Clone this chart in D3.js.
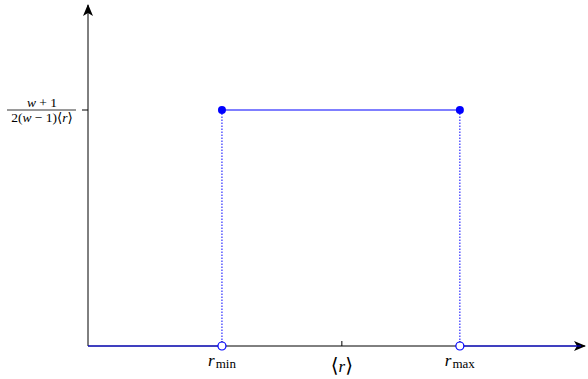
<!DOCTYPE html>
<html>
<head>
<meta charset="utf-8">
<script src="https://cdn.jsdelivr.net/npm/d3@7"></script>
<style>
  html, body { margin: 0; padding: 0; background: #fff; }
  svg { display: block; }
  text { font-family: "Liberation Serif", "DejaVu Serif", serif; }
</style>
</head>
<body>
<svg id="chart" width="588" height="379"></svg>
<script>
// Uniform density of r on [r_min, r_max] (arbitrary units)
const xDomain = [0, 3.71];
const yDomain = [0, 1.445];
const rMin = 1.0;
const rMean = 1.895;
const rMax = 2.776;
const height = 1.0; // (w+1) / (2(w-1)<r>)

// piecewise density: segments of the step function
const leftSeg = [[0, 0], [rMin, 0]];
const topSeg = [[rMin, height], [rMax, height]];
const rightSeg = [[rMax, 0], [3.68, 0]];
const jumps = [rMin, rMax];

const xTicks = [
  { v: rMin, base: "r", sub: "min" },
  { v: rMean, mean: true },
  { v: rMax, base: "r", sub: "max" }
];

const svg = d3.select("#chart");
const x = d3.scaleLinear().domain(xDomain).range([88, 585]);
const y = d3.scaleLinear().domain(yDomain).range([346, 5]);

const defs = svg.append("defs");
defs.append("marker")
  .attr("id", "arrow")
  .attr("viewBox", "0 0 12 10")
  .attr("refX", 11).attr("refY", 5)
  .attr("markerWidth", 12).attr("markerHeight", 10)
  .attr("markerUnits", "userSpaceOnUse")
  .attr("orient", "auto")
  .append("path")
  .attr("d", "M0,0 L12,5 L0,10 L3,5 Z")
  .attr("fill", "#000");

// axes
svg.append("line")
  .attr("x1", x(0)).attr("y1", y(0)).attr("x2", x(xDomain[1])).attr("y2", y(0))
  .attr("stroke", "#000").attr("stroke-width", 1)
  .attr("marker-end", "url(#arrow)");
svg.append("line")
  .attr("x1", x(0)).attr("y1", y(0)).attr("x2", x(0)).attr("y2", y(yDomain[1]))
  .attr("stroke", "#000").attr("stroke-width", 1)
  .attr("marker-end", "url(#arrow)");

// x tick marks (inward)
svg.selectAll(".xtick").data(xTicks).enter().append("line")
  .attr("x1", d => x(d.v)).attr("x2", d => x(d.v))
  .attr("y1", y(0)).attr("y2", y(0) - 5)
  .attr("stroke", "#000").attr("stroke-width", 1);

// y tick mark (outward)
svg.append("line")
  .attr("x1", x(0) - 6).attr("x2", x(0))
  .attr("y1", y(height)).attr("y2", y(height))
  .attr("stroke", "#000").attr("stroke-width", 1);

// density lines
const line = d3.line().x(d => x(d[0])).y(d => y(d[1]));
[leftSeg, topSeg, rightSeg].forEach(seg => {
  svg.append("path").attr("d", line(seg))
    .attr("fill", "none").attr("stroke", "#0000ff").attr("stroke-width", 1.2);
});

// dotted jumps
svg.selectAll(".jump").data(jumps).enter().append("line")
  .attr("x1", d => x(d)).attr("x2", d => x(d))
  .attr("y1", y(0)).attr("y2", y(height))
  .attr("stroke", "#0000ff").attr("stroke-width", 1)
  .attr("stroke-dasharray", "1.5,1.5");

// open circles at the bottom, filled dots at the top
svg.selectAll(".open").data(jumps).enter().append("circle")
  .attr("cx", d => x(d)).attr("cy", y(0)).attr("r", 4)
  .attr("fill", "#fff").attr("stroke", "#0000ff").attr("stroke-width", 1.2);
svg.selectAll(".filled").data(jumps).enter().append("circle")
  .attr("cx", d => x(d)).attr("cy", y(height)).attr("r", 4)
  .attr("fill", "#0000ff");

// x tick labels
xTicks.forEach(t => {
  if (t.mean) {
    const txt = svg.append("text")
      .attr("x", x(t.v)).attr("y", 372)
      .attr("text-anchor", "middle").attr("font-size", 17);
    txt.append("tspan").attr("font-size", 20).attr("font-family", "DejaVu Serif").text("⟨");
    txt.append("tspan").attr("font-style", "italic").text("r");
    txt.append("tspan").attr("font-size", 20).attr("font-family", "DejaVu Serif").text("⟩");
  } else {
    const txt = svg.append("text")
      .attr("x", x(t.v)).attr("y", 366)
      .attr("text-anchor", "middle").attr("font-size", 17);
    txt.append("tspan").attr("font-style", "italic").text(t.base);
    txt.append("tspan").attr("font-size", 13).attr("dy", 2).attr("dx", 1).text(t.sub);
  }
});

// y tick label: fraction
const fx = 42;
const fy = y(height);
svg.append("text")
  .attr("x", fx).attr("y", fy - 3)
  .attr("text-anchor", "middle").attr("font-size", 13.5)
  .html('<tspan font-style="italic">w</tspan> + 1');
svg.append("line")
  .attr("x1", 7).attr("x2", 76).attr("y1", fy).attr("y2", fy)
  .attr("stroke", "#000").attr("stroke-width", 0.8);
svg.append("text")
  .attr("x", fx).attr("y", fy + 12)
  .attr("text-anchor", "middle").attr("font-size", 13.5)
  .html('2(<tspan font-style="italic">w</tspan> − 1)⟨<tspan font-style="italic">r</tspan>⟩');
</script>
</body>
</html>
